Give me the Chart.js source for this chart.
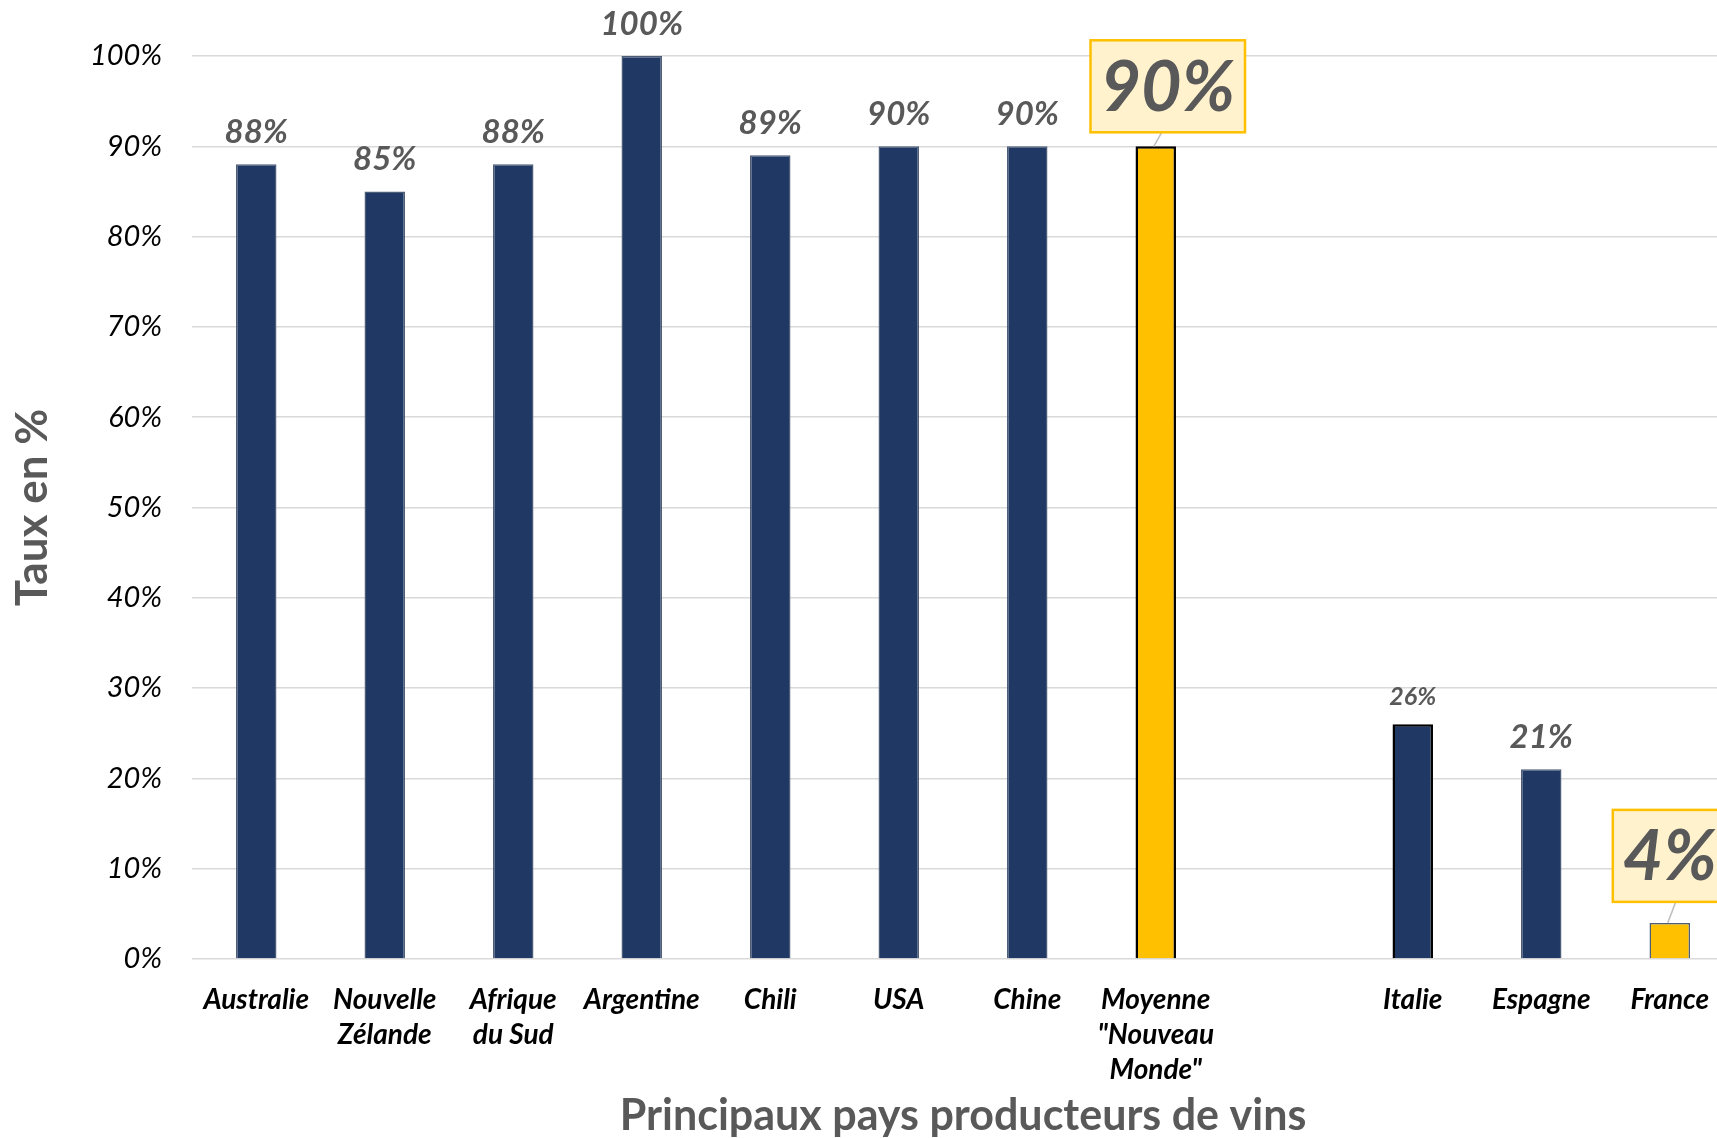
<!DOCTYPE html>
<html>
<head>
<meta charset="utf-8">
<script src="https://cdn.jsdelivr.net/npm/chart.js@4"></script>
<style>
  html, body { margin: 0; padding: 0; background: #fff; overflow: hidden; }
  #wrap { width: 1734px; height: 1138px; }
</style>
</head>
<body>
<div id="wrap"><canvas id="chart" width="1734" height="1138"></canvas></div>
<script>
// data
const categories = ["Australie", ["Nouvelle", "Zélande"], ["Afrique", "du Sud"], "Argentine", "Chili", "USA", "Chine",
  ["Moyenne", "\"Nouveau", "Monde\""], "", "Italie", "Espagne", "France"];
const values = [88, 85, 88, 100, 89, 90, 90, 90, null, 26, 21, 4];
const yTickValues = [0, 10, 20, 30, 40, 50, 60, 70, 80, 90, 100];
const highlighted = [7, 11];   // Moyenne, France
const smallLabel = [9];        // Italie label is smaller

const NAVY = "#203864";
const GOLD = "#FFC000";
const GREY = "#595959";

const labelPlugin = {
  id: "barLabels",
  afterDatasetsDraw(chart) {
    const ctx = chart.ctx;
    const meta = chart.getDatasetMeta(0);
    meta.data.forEach((bar, i) => {
      const v = values[i];
      if (v == null) return;
      const text = v + "%";
      ctx.save();
      if (highlighted.includes(i)) {
        ctx.font = "italic bold 70px Lato";
        const w = ctx.measureText(text).width + 20;
        const h = 92;
        const cx = bar.x + (i === 7 ? 12 : 0);
        const bottom = bar.y - (i === 7 ? 14 : 21);
        // leader line
        ctx.strokeStyle = "#bfbfbf";
        ctx.lineWidth = 1.5;
        ctx.beginPath();
        ctx.moveTo(bar.x + 6, bottom);
        ctx.lineTo(bar.x - 2, bar.y);
        ctx.stroke();
        ctx.fillStyle = "#FFF2CC";
        ctx.fillRect(cx - w / 2, bottom - h, w, h);
        ctx.strokeStyle = GOLD;
        ctx.lineWidth = 2.5;
        ctx.strokeRect(cx - w / 2, bottom - h, w, h);
        ctx.fillStyle = GREY;
        ctx.textAlign = "center";
        ctx.textBaseline = "middle";
        ctx.fillText(text, cx, bottom - h / 2 + 2);
      } else {
        const small = smallLabel.includes(i);
        ctx.font = small ? "italic bold 25px Lato" : "italic bold 33px Lato";
        ctx.fillStyle = GREY;
        ctx.textAlign = "center";
        ctx.textBaseline = "middle";
        ctx.fillText(text, bar.x, bar.y - (small ? 27 : 32));
      }
      ctx.restore();
    });
  }
};

new Chart(document.getElementById("chart"), {
  type: "bar",
  data: {
    labels: categories,
    datasets: [{
      data: values,
      backgroundColor: ctx => highlighted.includes(ctx.dataIndex) ? GOLD : NAVY,
      borderColor: ctx => (ctx.dataIndex === 7 || ctx.dataIndex === 9) ? "#000000" : "#4d5d78",
      borderWidth: ctx => (ctx.dataIndex === 7 || ctx.dataIndex === 9) ? 2.5 : 1.5,
      barPercentage: 0.315,
      categoryPercentage: 1
    }]
  },
  options: {
    responsive: false,
    animation: false,
    layout: { padding: { top: 56, left: 0, right: 0, bottom: 0 } },
    plugins: {
      legend: { display: false },
      tooltip: { enabled: false }
    },
    scales: {
      x: {
        grid: { display: false },
        border: { display: false },
        ticks: {
          color: "#000",
          font: { family: "Lato", size: 28, style: "italic", weight: "bold", lineHeight: 1.25 },
          padding: 15,
          maxRotation: 0,
          autoSkip: false
        },
        title: {
          display: true,
          text: "Principaux pays producteurs de vins",
          color: GREY,
          font: { family: "Lato", size: 43, weight: "bold", lineHeight: 1 },
          padding: { top: 0, bottom: 0 }
        },
        afterFit: s => { s.height = 179; }
      },
      y: {
        min: 0,
        max: 100,
        afterBuildTicks: s => { s.ticks = yTickValues.map(v => ({ value: v })); },
        grid: { color: "#d9d9d9", lineWidth: 1.5, drawTicks: false },
        border: { display: false },
        ticks: {
          color: "#000",
          font: { family: "Lato", size: 29, style: "italic" },
          padding: 30,
          callback: v => v + "%"
        },
        title: {
          display: true,
          text: "Taux en %",
          color: GREY,
          font: { family: "Lato", size: 44, weight: "bold", lineHeight: 1 },
          padding: { top: 11, bottom: 0 }
        },
        afterFit: s => { s.width = 192; }
      }
    }
  },
  plugins: [labelPlugin]
});
</script>
</body>
</html>
